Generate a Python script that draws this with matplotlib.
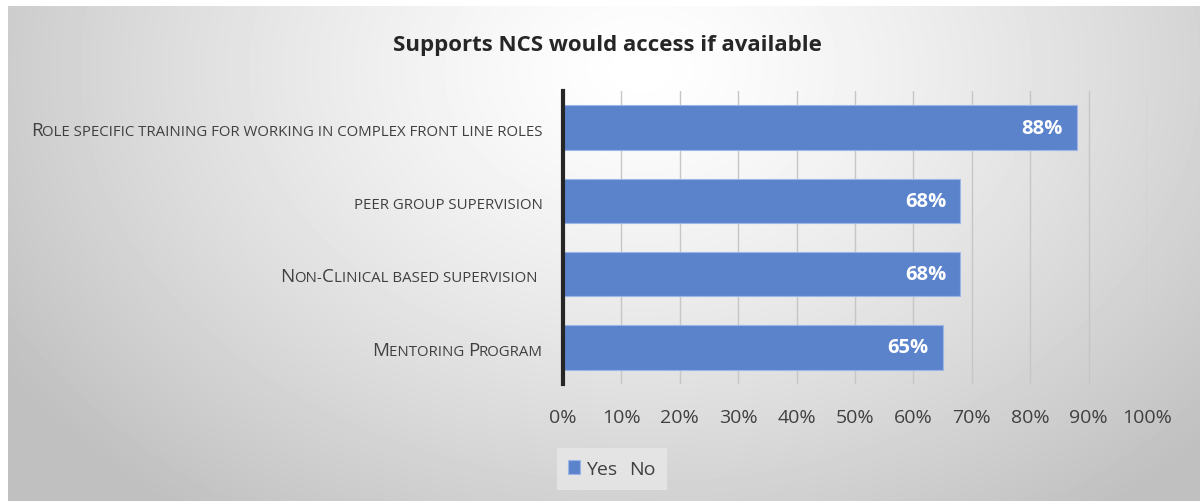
import matplotlib.pyplot as plt
import numpy as np
from matplotlib import transforms

# Survey results: share of respondents who would use each support
categories = [
    "Role specific training for working in complex front line roles",
    "peer group supervision",
    "Non-Clinical based supervision",
    "Mentoring Program",
]
yes_share = [88, 68, 68, 65]
tick_values = [0, 10, 20, 30, 40, 50, 60, 70, 80, 90, 100]

title = "Supports NCS would access if available"
bar_color = "#5b83cc"
font = "Open Sans"

fig = plt.figure(figsize=(12, 5.02), dpi=100)

# Radial grey backdrop, brightest just under the title
bg = fig.add_axes([0, 0, 1, 1], zorder=-10)
W, H = 1200, 502
yy, xx = np.mgrid[0:H, 0:W]
r = np.sqrt(((xx - 640) / 760.0) ** 2 + ((yy - 70) / 560.0) ** 2)
shade = np.clip(1.0 - 0.25 * r ** 1.3, 0.75, 1.0)
shade[:7, :] = 1.0
shade[:, :8] = 1.0
bg.imshow(shade, cmap="gray", vmin=0, vmax=1, aspect="auto", interpolation="bilinear")
bg.axis("off")

ax = fig.add_axes([563 / W, 1 - 385 / H, (1147 - 563) / W, (385 - 92) / H])
ax.patch.set_alpha(0)

y = np.arange(len(categories))
bars = ax.barh(y, yes_share, height=0.61, color=bar_color, edgecolor="#9bb6e6",
               linewidth=0.8, zorder=3, label="Yes")
ax.set_ylim(len(categories) - 0.5, -0.5)
ax.set_xlim(0, 100)

for v, yi in zip(yes_share, y):
    ax.text(v - 2.4, yi, f"{v}%", ha="right", va="center", color="white",
            fontsize=14.5, fontweight="bold", family=font, zorder=4)

ax.set_xticks(tick_values)
ax.set_xticklabels([f"{t}%" for t in tick_values], fontsize=14, color="#404040", family=font)
ax.tick_params(axis="x", length=0, pad=17)
ax.xaxis.grid(True, color="#c6c6c6", linewidth=1, zorder=0)
ax.set_yticks([])
for s in ["top", "right", "bottom"]:
    ax.spines[s].set_visible(False)
ax.spines["left"].set_color("#262626")
ax.spines["left"].set_linewidth(3)
ax.spines["left"].set_zorder(5)

fig.text(0.506, 1 - 45 / H, title, ha="center", va="center", fontsize=16,
         fontweight="bold", color="#262626", family=font)

# Small-caps category labels, assembled piece by piece from the right
renderer = fig.canvas.get_renderer()
big, small = 13.5, 10.8


def small_caps_runs(text):
    runs = []
    for ch in text:
        size = big if ch.isupper() or not ch.isalpha() and ch not in " -" else small
        if ch in " -":
            size = runs[-1][1] if runs else small
        if runs and runs[-1][1] == size:
            runs[-1][0] += ch.upper()
        else:
            runs.append([ch.upper(), size])
    return runs


label_right = [-20, -20, -26, -20]
for cat, yi, dx in zip(categories, y, label_right):
    offset = dx
    for piece, size in reversed(small_caps_runs(cat)):
        tr = transforms.offset_copy(ax.get_yaxis_transform(), fig=fig, x=offset, y=0, units="dots")
        t = ax.text(0, yi + 0.1, piece, transform=tr, ha="right", va="baseline", fontsize=size,
                    color="#404040", family=font, clip_on=False)
        offset -= t.get_window_extent(renderer).width

# Legend: "No" has no visible swatch
no_handle = plt.Rectangle((0, 0), 1, 1, alpha=0)
leg = fig.legend([bars, no_handle], ["Yes", "No"], loc="center left",
                 bbox_to_anchor=(547 / W, 1 - 470 / H), ncol=2, frameon=True,
                 handlelength=0.6, handleheight=0.7, handletextpad=0.3,
                 columnspacing=-0.3, fancybox=False, borderpad=0.6,
                 prop={"family": font, "size": 14})
leg.get_frame().set_facecolor("#e8e8e8")
leg.get_frame().set_edgecolor("none")
for txt in leg.get_texts():
    txt.set_color("#404040")

fig.savefig("out.png", dpi=100)
